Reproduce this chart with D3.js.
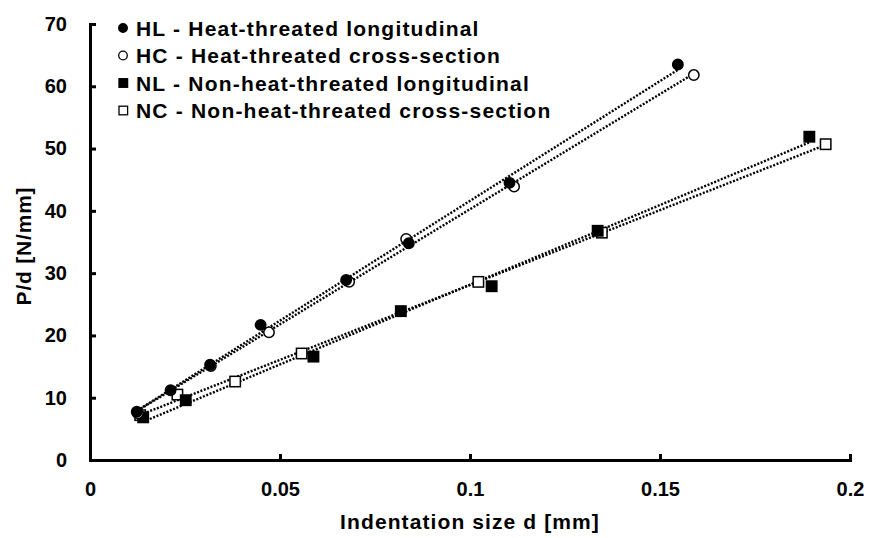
<!DOCTYPE html>
<html>
<head>
<meta charset="utf-8">
<script src="https://cdn.jsdelivr.net/npm/d3@7"></script>
<style>
  body { margin: 0; background: #fff; }
  text { font-family: "Liberation Sans", Arial, sans-serif; font-weight: bold; fill: #000; }
</style>
</head>
<body>
<script>
// chart data
var hlD = [0.0123, 0.0212, 0.0316, 0.0449, 0.0674, 0.0839, 0.1104, 0.1547];
var hlP = [7.75, 11.2, 15.3, 21.7, 28.9, 34.8, 44.5, 63.5];

var hcD = [0.0126, 0.0318, 0.0471, 0.0682, 0.0832, 0.1116, 0.1589];
var hcP = [7.5, 15.1, 20.5, 28.6, 35.5, 43.9, 61.8];

var nlD = [0.0140, 0.0252, 0.0588, 0.0818, 0.1057, 0.1336, 0.1893];
var nlP = [6.85, 9.6, 16.6, 23.9, 27.9, 36.8, 51.9];

var ncD = [0.0132, 0.0230, 0.0382, 0.0557, 0.1022, 0.1347, 0.1936];
var ncP = [7.2, 10.5, 12.6, 17.1, 28.6, 36.5, 50.7];

var seriesNames = ["HL - Heat-threated longitudinal", "HC - Heat-threated cross-section",
                   "NL - Non-heat-threated longitudinal", "NC - Non-heat-threated cross-section"];
var xTicks = [0, 0.05, 0.1, 0.15, 0.2];
var xTickLabels = ["0", "0.05", "0.1", "0.15", "0.2"];
var yTicks = [0, 10, 20, 30, 40, 50, 60, 70];

var width = 872, height = 538;
var svg = d3.select('body').append('svg')
            .attr('width', width)
            .attr('height', height);

var x = d3.scaleLinear().domain([0, 0.2]).range([90, 850]);
var y = d3.scaleLinear().domain([0, 70]).range([460, 24]);

var series = [
  {name: seriesNames[0], d: hlD, p: hlP, shape: 'circle', fill: '#000'},
  {name: seriesNames[1], d: hcD, p: hcP, shape: 'circle', fill: '#fff'},
  {name: seriesNames[2], d: nlD, p: nlP, shape: 'square', fill: '#000'},
  {name: seriesNames[3], d: ncD, p: ncP, shape: 'square', fill: '#fff'}
];

// least squares trend line over each series' range
var fit = function(xs, ys) {
  var mx = d3.mean(xs), my = d3.mean(ys);
  var sxy = d3.sum(xs, function(v, i) { return (v - mx) * (ys[i] - my); });
  var sxx = d3.sum(xs, function(v) { return (v - mx) * (v - mx); });
  var b = sxy / sxx, a = my - b * mx;
  var x0 = d3.min(xs), x1 = d3.max(xs);
  return [[x0, a + b * x0], [x1, a + b * x1]];
};

var line = d3.line()
  .x(function(p) { return x(p[0]); })
  .y(function(p) { return y(p[1]); });

series.forEach(function(s) {
  svg.append('path')
    .attr('d', line(fit(s.d, s.p)))
    .attr('fill', 'none')
    .attr('stroke', '#000')
    .attr('stroke-width', 2.4)
    .attr('stroke-dasharray', '2,1.6');
});

// axes
var xAxis = svg.append('g')
  .attr('transform', 'translate(0,' + y(0) + ')')
  .call(d3.axisBottom(x).tickValues(xTicks)
        .tickFormat(function(v, i) { return xTickLabels[i]; })
        .tickSizeInner(-6).tickSizeOuter(-6).tickPadding(22));
var yAxis = svg.append('g')
  .attr('transform', 'translate(' + x(0) + ',0)')
  .call(d3.axisLeft(y).tickValues(yTicks)
        .tickSizeInner(-6).tickSizeOuter(-6).tickPadding(23));

[xAxis, yAxis].forEach(function(g) {
  g.select('.domain').attr('stroke-width', 3).attr('stroke', '#000');
  g.selectAll('.tick line').attr('stroke-width', 3).attr('stroke', '#000');
  g.selectAll('.tick text').style('font-size', '20px').attr('fill', '#000')
    .style('font-family', '"Liberation Sans", Arial, sans-serif').style('font-weight', 'bold');
});

// markers
var drawMarker = function(g, s, cx, cy) {
  if (s.shape === 'circle') {
    g.append('circle').attr('cx', cx).attr('cy', cy).attr('r', 5.2)
      .attr('fill', s.fill).attr('stroke', '#000').attr('stroke-width', 1.5);
  } else {
    g.append('rect').attr('x', cx - 5.2).attr('y', cy - 5.2).attr('width', 10.4).attr('height', 10.4)
      .attr('fill', s.fill).attr('stroke', '#000').attr('stroke-width', 1.5);
  }
};

// open circles go under the filled ones
[series[3], series[2], series[1], series[0]].forEach(function(s) {
  var g = svg.append('g');
  s.d.forEach(function(v, i) { drawMarker(g, s, x(v), y(s.p[i])); });
});

// legend
var legend = svg.append('g');
series.forEach(function(s, i) {
  var ly = 28 + i * 27.5;
  if (s.shape === 'circle') {
    legend.append('circle').attr('cx', 123).attr('cy', ly).attr('r', 4.3)
      .attr('fill', s.fill).attr('stroke', '#000').attr('stroke-width', 1.3);
  } else {
    legend.append('rect').attr('x', 119).attr('y', ly - 4.3).attr('width', 8.6).attr('height', 8.6)
      .attr('fill', s.fill).attr('stroke', '#000').attr('stroke-width', 1.3);
  }
  legend.append('text')
    .attr('x', 136).attr('y', ly)
    .attr('dy', '0.36em')
    .style('font-size', '21px')
    .style('letter-spacing', '1.2px')
    .text(s.name);
});

// axis titles
svg.append('text')
  .attr('x', 470).attr('y', 529)
  .attr('text-anchor', 'middle')
  .style('font-size', '21px')
  .style('letter-spacing', '1.1px')
  .text('Indentation size d [mm]');

svg.append('text')
  .attr('transform', 'translate(31,246) rotate(-90)')
  .attr('text-anchor', 'middle')
  .style('font-size', '21px')
  .style('letter-spacing', '0.8px')
  .text('P/d [N/mm]');
</script>
</body>
</html>
